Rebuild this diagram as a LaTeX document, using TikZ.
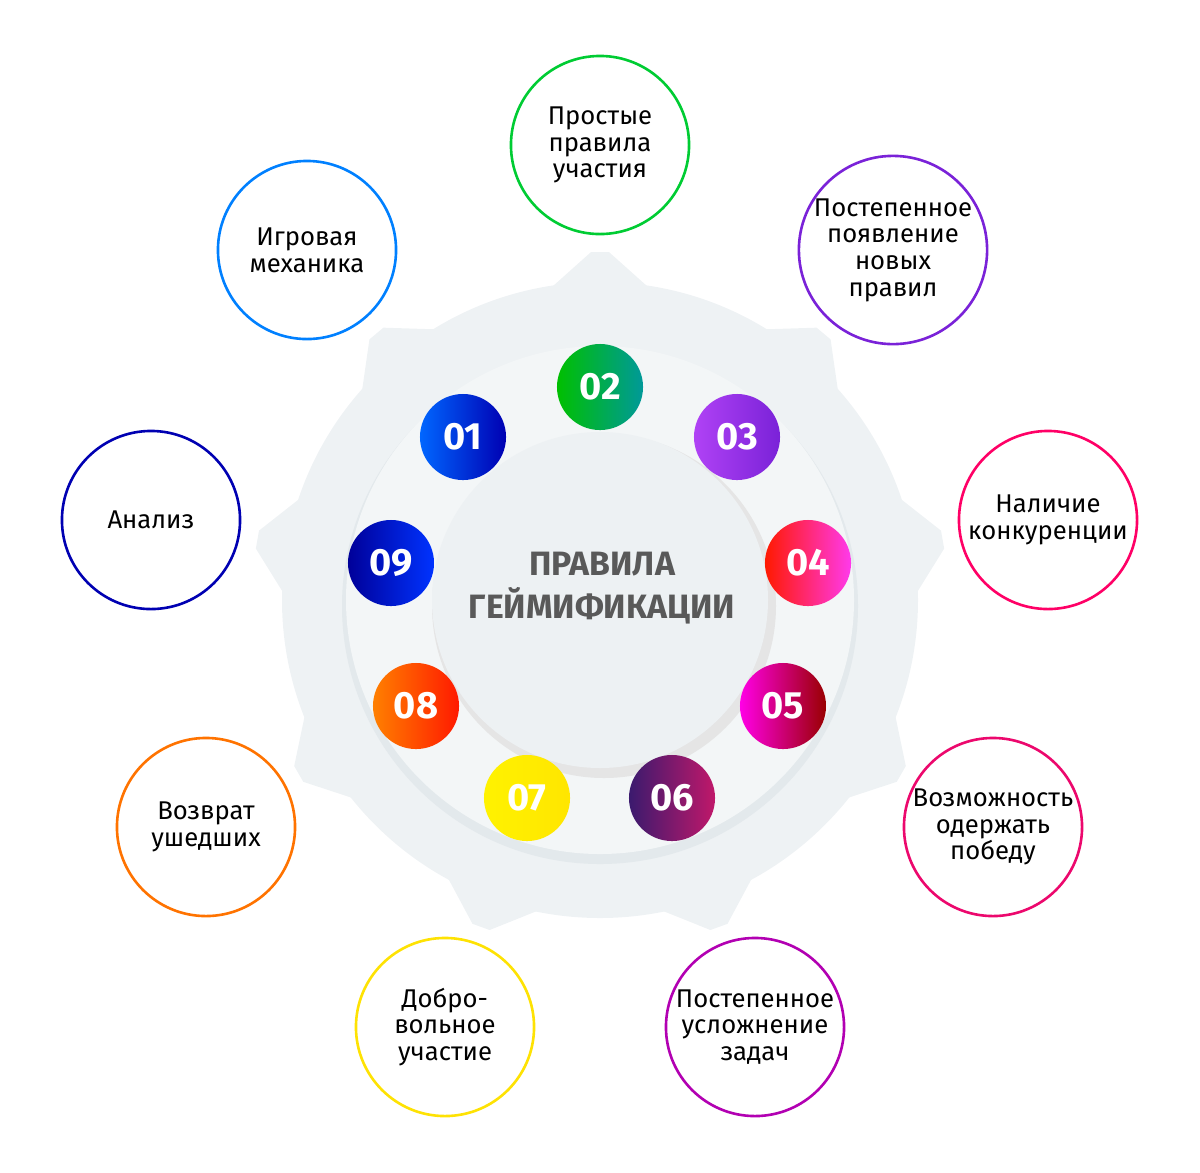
\documentclass[tikz,border=0pt]{standalone}
\usepackage{fontspec}
\setmainfont{Fira Sans}
\begin{document}
\begin{tikzpicture}[x=0.01cm,y=-0.01cm,
  outer/.style={circle,minimum size=1.78cm,line width=0.026cm,fill=white,align=center,font=\fontsize{7.3}{7.6}\selectfont,inner sep=0},
  num/.style={circle,minimum size=0.86cm,inner sep=0,text=white,font=\fontsize{10.8}{10.8}\selectfont\bfseries,shading angle=0}]
\useasboundingbox (0,0) rectangle (1200,1172);
\definecolor{gearc}{HTML}{EEF2F4}
\definecolor{ringc}{HTML}{E3E9EC}
\definecolor{innc}{HTML}{EDF1F3}
\definecolor{c3a}{HTML}{B042F5}
\definecolor{c3b}{HTML}{7A22D8}
\definecolor{c6a}{HTML}{3B1A6E}
\definecolor{c6b}{HTML}{C0186A}
% gear
\fill[gearc] (600,600) circle (318);
\foreach \a in {90,50,10,-30,-70,-110,-150,170,130}{
  \fill[gearc] ({600+300*cos(\a-14)},{600-300*sin(\a-14)}) -- ({600+348*cos(\a-1.5)},{600-348*sin(\a-1.5)}) -- ({600+348*cos(\a+1.5)},{600-348*sin(\a+1.5)}) -- ({600+300*cos(\a+14)},{600-300*sin(\a+14)}) -- cycle;}
\fill[ringc] (600,606) circle (258);
\fill[gearc!70!white] (600,600) circle (254);
\fill[black!10] (604,606) circle (172);
\fill[innc] (600,600) circle (168);
\node[font=\fontsize{9.6}{12.4}\selectfont\bfseries,text=black!65,align=center] (t) at (602,588) {ПРАВИЛА\\ГЕЙМИФИКАЦИИ};
% numbers
\node[num,left color=blue!60!cyan,right color=blue!70!black] (n1) at (463,437) {01};
\node[num,left color=green!75!black,right color=teal!80!cyan] (n2) at (600,387) {02};
\node[num,left color=c3a,right color=c3b] (n3) at (737,437) {03};
\node[num,left color=red!80!orange,right color=magenta!70!pink] (n4) at (808,563) {04};
\node[num,left color=magenta!90!red,right color=red!60!black] (n5) at (783,706) {05};
\node[num,left color=c6a,right color=c6b] (n6) at (672,798) {06};
\node[num,left color=yellow!90!orange,right color=yellow!80!orange] (n7) at (527,798) {07};
\node[num,left color=orange,right color=red!80!orange] (n8) at (416,706) {08};
\node[num,left color=blue!60!black,right color=blue!80!cyan] (n9) at (391,563) {09};
% outer
\node[outer,draw=green!60!teal] (o2) at (600,145) {Простые\\правила\\участия};
\node[outer,draw=c3b] (o3) at (893,250) {Постепенное\\появление\\новых\\правил};
\node[outer,draw=red!60!magenta] (o4) at (1048,520) {Наличие\\конкуренции};
\node[outer,draw=magenta!70!red] (o5) at (993,827) {Возможность\\одержать\\победу};
\node[outer,draw=violet!60!magenta] (o6) at (755,1027) {Постепенное\\усложнение\\задач};
\node[outer,draw=yellow!85!orange] (o7) at (445,1027) {Добро-\\вольное\\участие};
\node[outer,draw=orange!90!red] (o8) at (206,827) {Возврат\\ушедших};
\node[outer,draw=blue!70!black] (o9) at (151,520) {Анализ};
\node[outer,draw=blue!50!cyan] (o1) at (307,250) {Игровая\\механика};
\end{tikzpicture}
\end{document}
